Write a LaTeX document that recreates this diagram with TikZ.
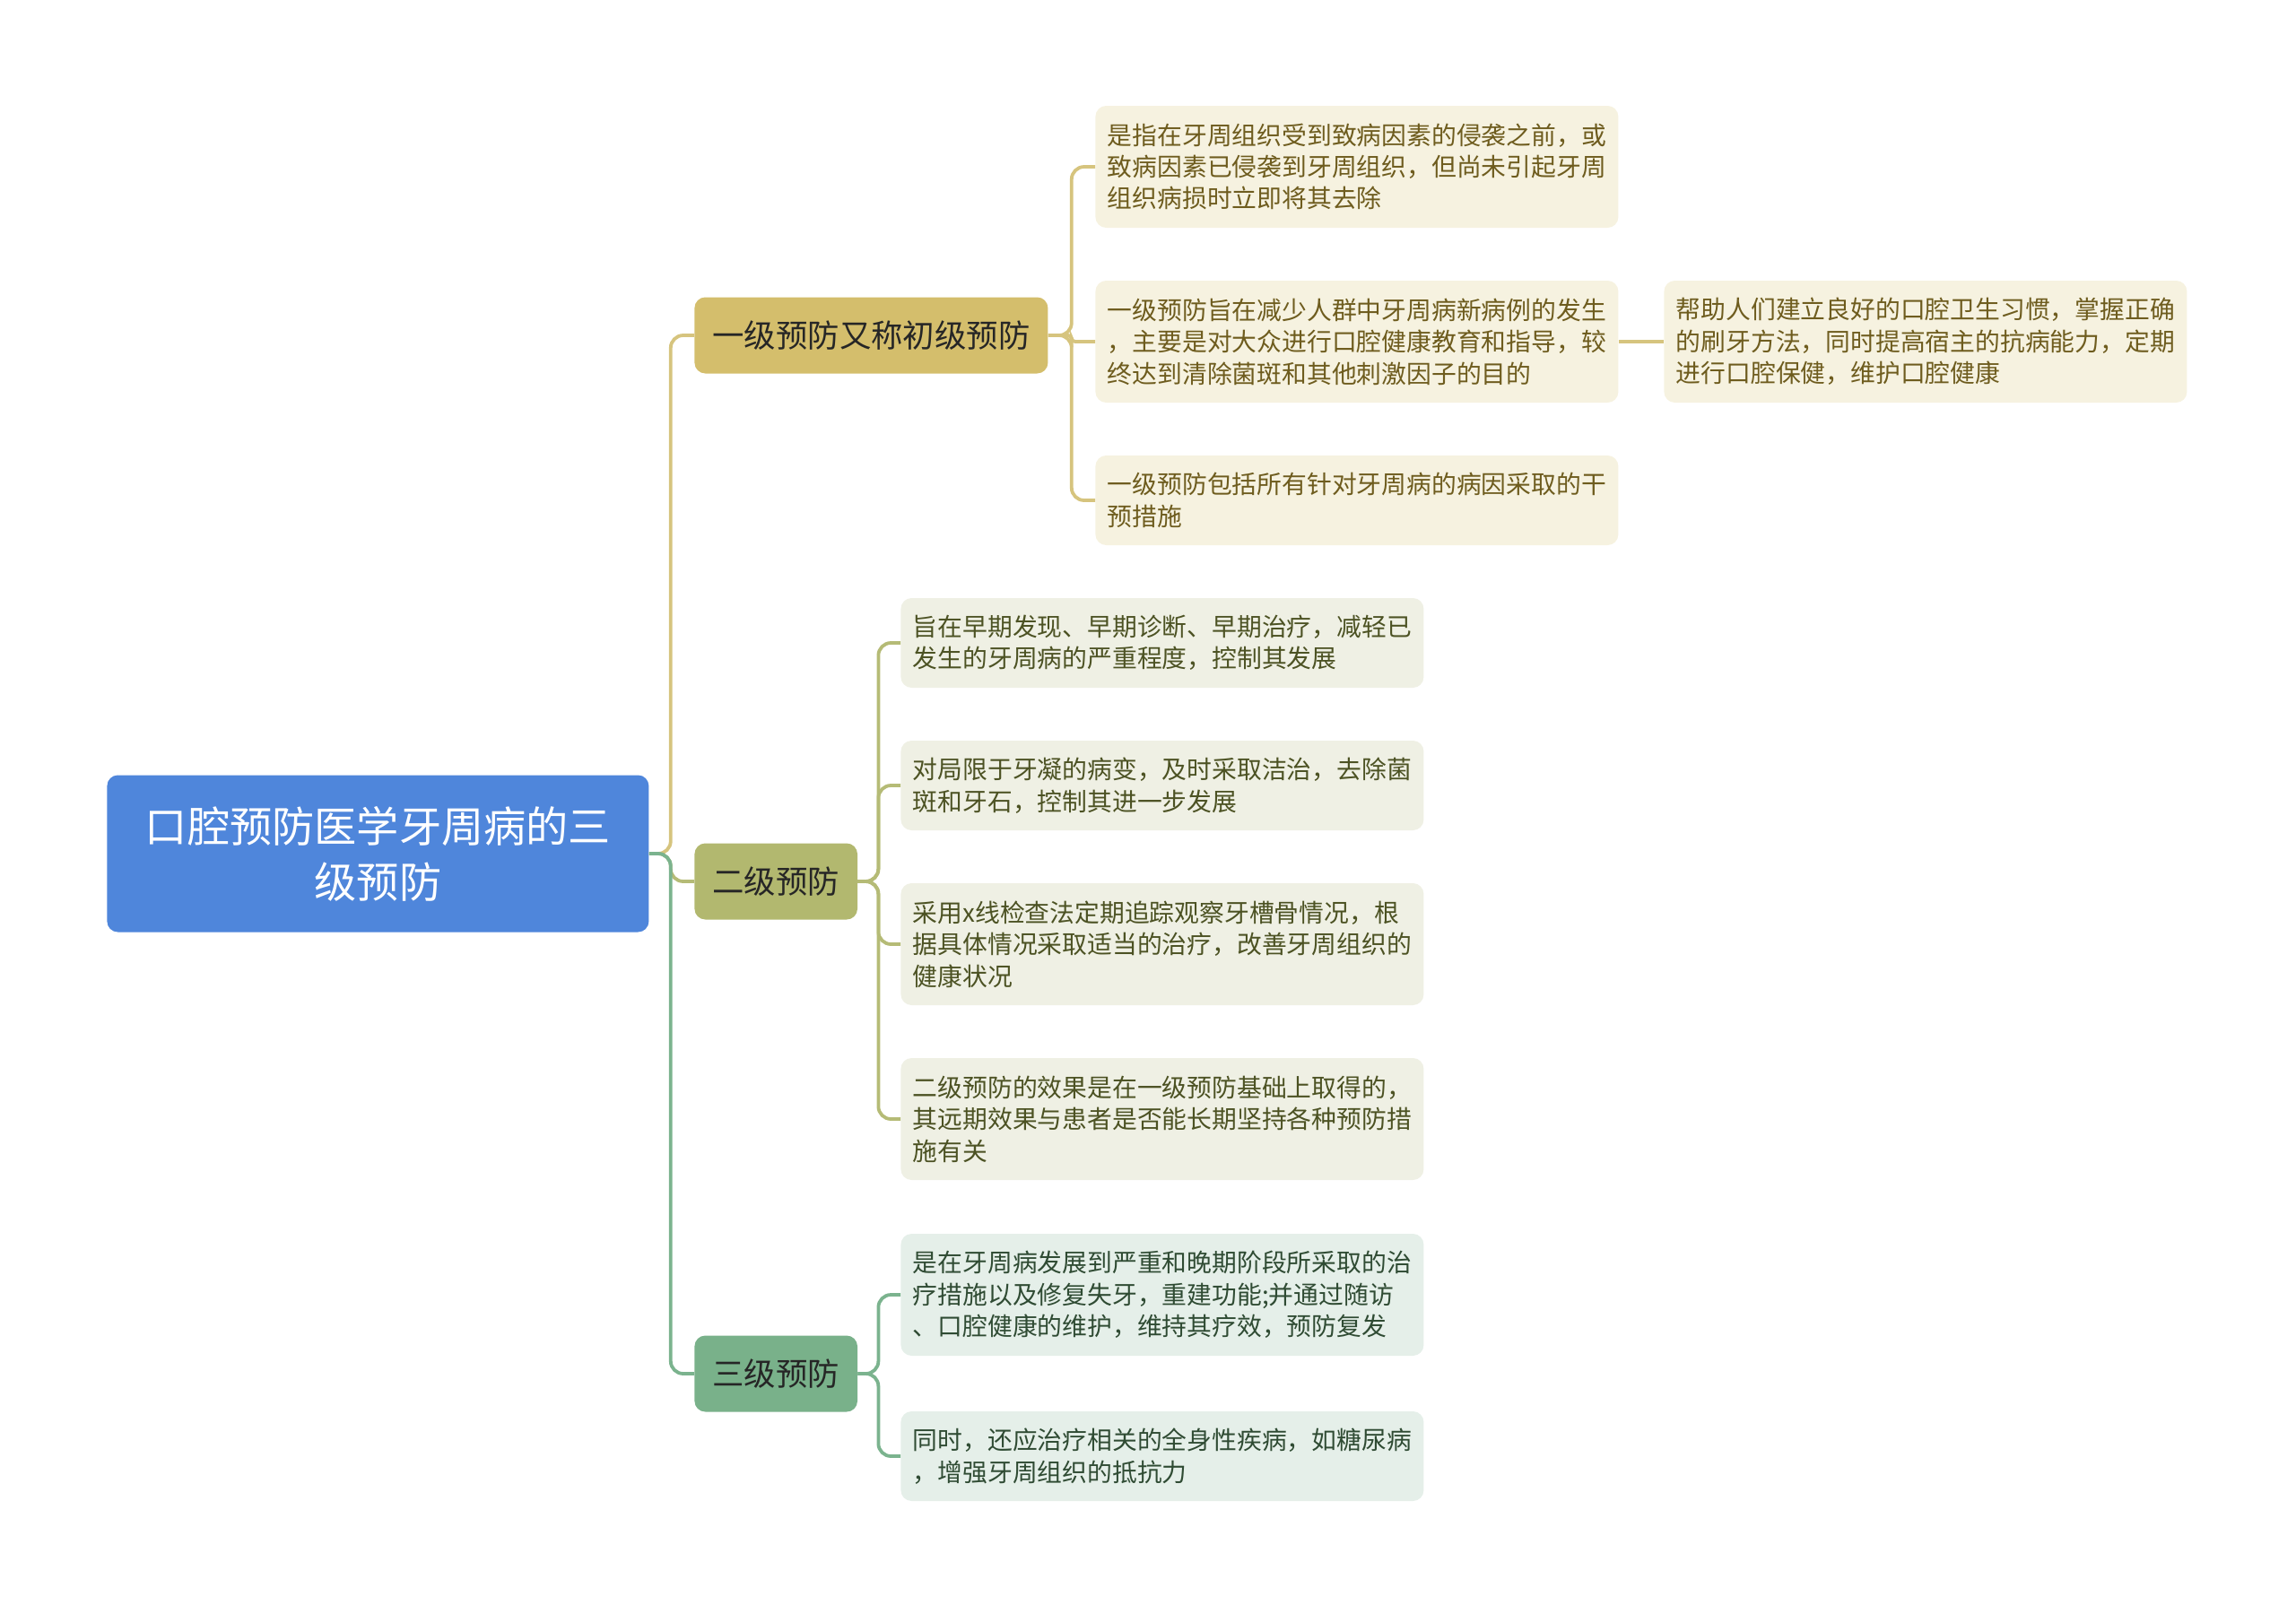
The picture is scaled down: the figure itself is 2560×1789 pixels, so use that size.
\documentclass[tikz,border=0pt]{standalone}
\usepackage{fontspec}
\setmainfont{Noto Sans CJK SC}
\usetikzlibrary{positioning}

\definecolor{rootblue}{HTML}{4F86DB}
\definecolor{goldfill}{HTML}{D4BE6C}
\definecolor{olivefill}{HTML}{B2B86F}
\definecolor{greenfill}{HTML}{79B18A}
\definecolor{goldline}{HTML}{D6C47E}
\definecolor{oliveline}{HTML}{B5BB76}
\definecolor{greenline}{HTML}{7BB38E}
\definecolor{goldleaf}{HTML}{F6F2E0}
\definecolor{oliveleaf}{HTML}{EFF0E4}
\definecolor{greenleaf}{HTML}{E5EFE9}
\definecolor{goldtext}{HTML}{6E5C1E}
\definecolor{olivetext}{HTML}{4C5223}
\definecolor{greentext}{HTML}{2F4B33}

\tikzset{
  rootbox/.style={fill=rootblue, text=white, rounded corners=6pt, align=center,
    minimum width=302pt, minimum height=87.5pt, inner sep=0pt,
    font=\fontsize{23.6pt}{31pt}\selectfont},
  lvlbox/.style={rounded corners=6pt, minimum height=42.5pt, inner xsep=10pt,
    inner ysep=0pt, text=black!85, font=\fontsize{17.7pt}{22pt}\selectfont},
  leafbox/.style={rounded corners=6pt, text width=278pt, inner xsep=6.75pt,
    inner ysep=0pt, align=left, font=\fontsize{13.9pt}{17.7pt}\selectfont},
  goldleafbox/.style={leafbox, fill=goldleaf, text=goldtext},
  oliveleafbox/.style={leafbox, fill=oliveleaf, text=olivetext},
  greenleafbox/.style={leafbox, fill=greenleaf, text=greentext},
  threeln/.style={minimum height=68pt},
  twoln/.style={minimum height=50pt},
  link/.style={line width=1.9pt, rounded corners=7pt},
}

\begin{document}
\begin{tikzpicture}[x=0.5pt, y=-0.5pt]
    \useasboundingbox (0,0) rectangle (2560,1789);

    % root and first level
    \node[rootbox, anchor=west] (root) at (119,952) {口腔预防医学牙周病的三\\级预防};
    \node[lvlbox, fill=goldfill, anchor=west] (l1a) at (774,374) {一级预防又称初级预防};
    \node[lvlbox, fill=olivefill, anchor=west] (l1b) at (774,983) {二级预防};
    \node[lvlbox, fill=greenfill, anchor=west] (l1c) at (774,1532) {三级预防};

    % first level leaves
    \node[goldleafbox, threeln, anchor=west] (a1) at (1221,186) {是指在牙周组织受到致病因素的侵袭之前，或\\致病因素已侵袭到牙周组织，但尚未引起牙周\\组织病损时立即将其去除};
    \node[goldleafbox, threeln, anchor=west] (a2) at (1221,381) {一级预防旨在减少人群中牙周病新病例的发生\\，主要是对大众进行口腔健康教育和指导，较\\终达到清除菌斑和其他刺激因子的目的};
    \node[goldleafbox, twoln, anchor=west] (a3) at (1221,558) {一级预防包括所有针对牙周病的病因采取的干\\预措施};
    \node[goldleafbox, threeln, anchor=west] (a2x) at (1855,381) {帮助人们建立良好的口腔卫生习惯，掌握正确\\的刷牙方法，同时提高宿主的抗病能力，定期\\进行口腔保健，维护口腔健康};

    % second level leaves
    \node[oliveleafbox, twoln, anchor=west] (b1) at (1004,717) {旨在早期发现、早期诊断、早期治疗，减轻已\\发生的牙周病的严重程度，控制其发展};
    \node[oliveleafbox, twoln, anchor=west] (b2) at (1004,876) {对局限于牙凝的病变，及时采取洁治，去除菌\\斑和牙石，控制其进一步发展};
    \node[oliveleafbox, threeln, anchor=west] (b3) at (1004,1053) {采用x线检查法定期追踪观察牙槽骨情况，根\\据具体情况采取适当的治疗，改善牙周组织的\\健康状况};
    \node[oliveleafbox, threeln, anchor=west] (b4) at (1004,1248) {二级预防的效果是在一级预防基础上取得的，\\其远期效果与患者是否能长期坚持各种预防措\\施有关};

    % third level leaves
    \node[greenleafbox, threeln, anchor=west] (c1) at (1004,1444) {是在牙周病发展到严重和晚期阶段所采取的治\\疗措施以及修复失牙，重建功能;并通过随访\\、口腔健康的维护，维持其疗效，预防复发};
    \node[greenleafbox, twoln, anchor=west] (c2) at (1004,1624) {同时，还应治疗相关的全身性疾病，如糖尿病\\，增强牙周组织的抵抗力};

    % connectors
    \draw[link, goldline] (root.east) -- ++(24,0) |- (l1a.west);
    \draw[link, oliveline] (root.east) -- ++(24,0) |- (l1b.west);
    \draw[link, greenline] (root.east) -- ++(24,0) |- (l1c.west);

    \foreach \n in {a1,a3}
        \draw[link, goldline] (l1a.east) -- ++(26,0) |- (\n.west);
    \draw[link, goldline, rounded corners=2pt] (l1a.east) -- ++(26,0) |- (a2.west);
    \draw[link, goldline] (a2.east) -- (a2x.west);

    \foreach \n in {b1,b2,b3,b4}
        \draw[link, oliveline] (l1b.east) -- ++(23,0) |- (\n.west);
    \foreach \n in {c1,c2}
        \draw[link, greenline] (l1c.east) -- ++(23,0) |- (\n.west);
\end{tikzpicture}
\end{document}
